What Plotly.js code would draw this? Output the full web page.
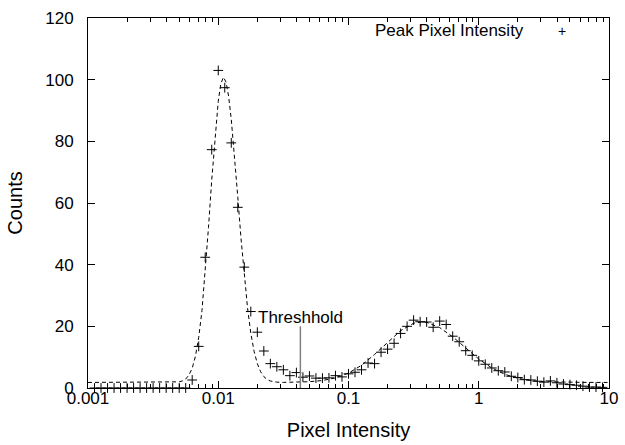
<!DOCTYPE html>
<html>
<head>
<meta charset="utf-8">
<script src="https://cdn.plot.ly/plotly-3.0.1.min.js"></script>
<style>html,body{margin:0;padding:0;background:#fff;}#chart{width:625px;height:445px;}</style>
</head>
<body>
<div id="chart"></div>
<script>
// Histogram bin centres (pixel intensity)
const pixelX = [0.001122,0.001259,0.001413,0.001585,0.001778,0.001995,0.002239,0.002512,0.002818,0.003162,
  0.003548,0.003981,0.004467,0.005012,0.005623,0.006310,0.007079,0.007943,0.008913,0.01,
  0.01122,0.01259,0.01413,0.01585,0.01778,0.01995,0.02239,0.02512,0.02818,0.03162,
  0.03548,0.03981,0.04467,0.05012,0.05623,0.06310,0.07079,0.07943,0.08913,0.1,
  0.1122,0.1259,0.1413,0.1585,0.1778,0.1995,0.2239,0.2512,0.2818,0.3162,
  0.3548,0.3981,0.4467,0.5012,0.5623,0.6310,0.7079,0.7943,0.8913,1.0,
  1.122,1.259,1.413,1.585,1.778,1.995,2.239,2.512,2.818,3.162,
  3.548,3.981,4.467,5.012,5.623,6.310,7.079,7.943,8.913];
// Peak pixel intensity counts
const peakCounts = [0,0,0,0,0,0,0,0,0,0,
  0,0,0,0,0,2.6,13.5,42.4,77.3,103,
  97.4,79.5,58.6,39.2,24.8,18.1,12,7.9,6.9,5.9,
  4,5,3.5,3.9,3.2,3.2,3.3,4,3.6,4.6,
  5.1,5.9,8.1,7.9,11.6,12.6,14.5,17.7,20,22,
  21.5,21.4,19.7,21.7,20.6,16.8,15,12.1,10.6,8.8,
  7.7,6.5,5.6,5.2,3.8,3.4,2.7,2.6,2.2,1.9,
  2.3,1.7,1.3,1.1,0.9,0.6,0.3,0.3,0.2];
// Fitted curve
const fitX = [0.001,0.003162,0.003981,0.004467,0.005012,0.005309,0.005623,0.005957,0.00631,0.006683,
  0.007079,0.007499,0.007943,0.008414,0.008913,0.009441,0.01,0.01047,0.01096,0.01148,
  0.01202,0.01259,0.01334,0.01413,0.01496,0.01585,0.01679,0.01778,0.01884,0.01995,
  0.02113,0.02239,0.02371,0.02512,0.02818,0.03162,0.03981,0.05012,0.0631,0.07943,
  0.1,0.1259,0.1585,0.1995,0.2512,0.3162,0.3631,0.3981,0.5012,0.631,
  0.7943,1,1.259,1.585,1.995,2.512,3.162,3.981,5.012,6.31,10];
const fitY = [1.8,1.8,1.8,1.83,2.0,2.3,2.9,4.2,6.4,10.3,
  16.4,25.1,38,52,67.5,81.5,93,98.7,100.8,99.2,
  94.5,87.1,75.3,61.9,48.4,36.2,25.9,17.8,11.9,7.9,
  5.3,3.7,2.76,2.27,1.9,1.82,1.88,2.04,2.43,3.27,
  4.84,7.37,10.87,14.9,18.6,21.0,21.4,21.3,19.6,16.6,
  12.95,9.4,6.5,4.45,3.15,2.43,2.06,1.9,1.84,1.82,1.8];
// Threshold marker
const thresholdX = [0.0427, 0.0427];
const thresholdY = [0, 20];
const thresholdLabel = 'Threshhold';
// Axis ticks
const xTickVals = [0.001, 0.01, 0.1, 1, 10];
const xTickText = ['0.001', '0.01', '0.1', '1', '10'];
const xMinorVals = [0.002,0.003,0.004,0.005,0.006,0.007,0.008,0.009,
  0.02,0.03,0.04,0.05,0.06,0.07,0.08,0.09,
  0.2,0.3,0.4,0.5,0.6,0.7,0.8,0.9,
  2,3,4,5,6,7,8,9];
const yTickVals = [0, 20, 40, 60, 80, 100, 120];
const seriesName = 'Peak Pixel Intensity';

const traces = [
  {x: fitX, y: fitY, type: 'scatter', mode: 'lines',
   line: {color: '#000', width: 1, dash: '4px,3px'}, hoverinfo: 'skip'},
  {x: pixelX, y: peakCounts, type: 'scatter', mode: 'markers', name: seriesName,
   cliponaxis: false,
   marker: {symbol: 'cross-thin', size: 7, color: '#000', line: {color: '#000', width: 1}}},
  {x: thresholdX, y: thresholdY, type: 'scatter', mode: 'lines',
   line: {color: '#808080', width: 1.5}, hoverinfo: 'skip'}
];

const axisCommon = {
  showline: true, linecolor: '#000', linewidth: 1, mirror: 'allticks',
  ticks: 'inside', ticklen: 7, tickwidth: 1, tickcolor: '#000',
  showgrid: false, zeroline: false, automargin: false
};

const layout = {
  width: 625, height: 445,
  margin: {l: 88, r: 16, t: 18, b: 57},
  paper_bgcolor: '#fff', plot_bgcolor: '#fff',
  font: {family: 'Liberation Sans, Arial, sans-serif', size: 17, color: '#000'},
  showlegend: false,
  xaxis: Object.assign({}, axisCommon, {
    type: 'log', range: [-3, 1], tickmode: 'array', tickvals: xTickVals, ticktext: xTickText,
    ticklabelstandoff: -5,
    minor: {tickmode: 'array', tickvals: xMinorVals, ticks: 'inside', ticklen: 4, tickwidth: 1, tickcolor: '#000', showgrid: false},
    title: {text: 'Pixel Intensity', standoff: 15}
  }),
  yaxis: Object.assign({}, axisCommon, {
    range: [0, 120], tickmode: 'array', tickvals: yTickVals,
    ticklabelstandoff: 10,
    title: {text: 'Counts', standoff: 17}
  }),
  annotations: [
    {x: Math.log10(thresholdX[0]), y: thresholdY[1], xref: 'x', yref: 'y', text: thresholdLabel,
     showarrow: false, xanchor: 'center', yanchor: 'bottom', yshift: -3, font: {size: 17}},
    {x: 0.841, y: 0.965, xref: 'paper', yref: 'paper', text: seriesName, showarrow: false,
     xanchor: 'right', yanchor: 'middle', font: {size: 17}},
    {x: 0.91, y: 0.965, xref: 'paper', yref: 'paper', text: '+', showarrow: false,
     xanchor: 'center', yanchor: 'middle', font: {size: 14}}
  ]
};

Plotly.newPlot('chart', traces, layout, {displayModeBar: false, staticPlot: true});
</script>
</body>
</html>
